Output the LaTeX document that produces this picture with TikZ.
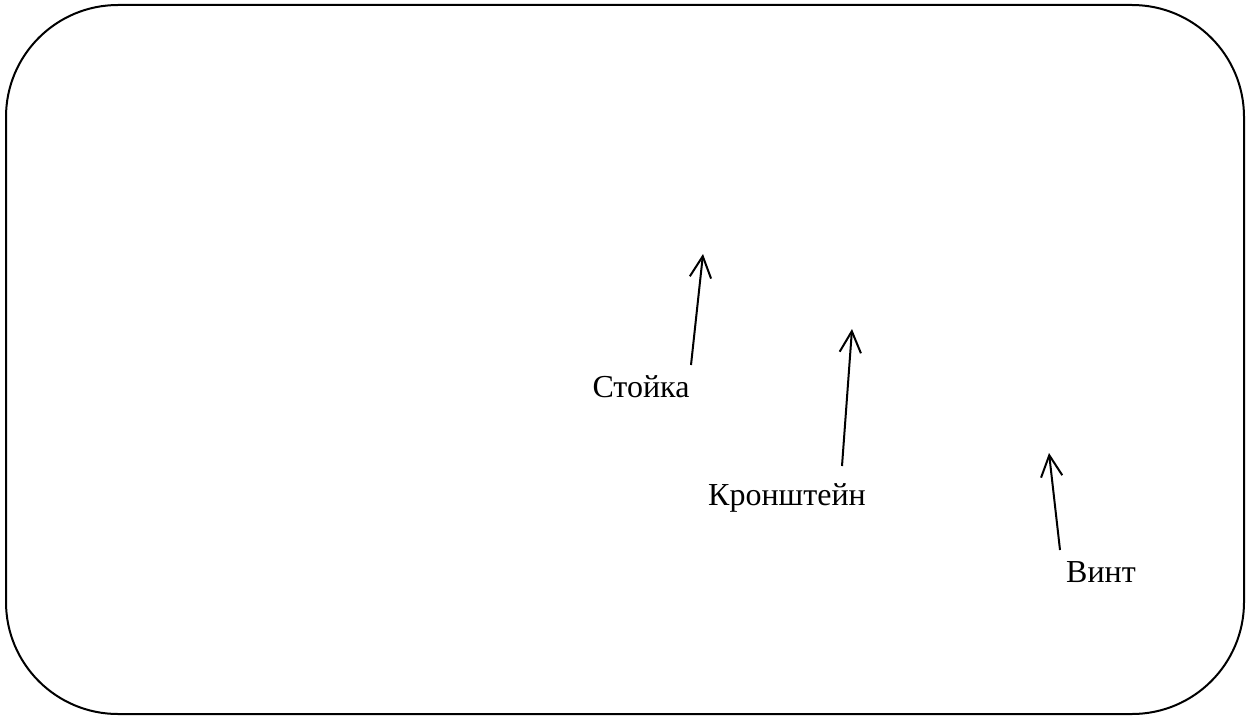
\documentclass[tikz,border=0pt]{standalone}
\usepackage{fontspec}
\setmainfont{Liberation Serif}
\usetikzlibrary{arrows.meta}
\tikzset{
  frame/.style={draw=black, line width=1.5pt, rounded corners=84pt},
  pointer/.style={draw=black, line width=1.5pt, -{Straight Barb[length=16pt,width=16pt,line width=1.5pt]}},
  label/.style={font=\fontsize{24}{29}\selectfont, inner sep=0pt, anchor=base}
}
\begin{document}
\begin{tikzpicture}[x=0.75pt,y=-0.75pt]
\useasboundingbox (0,0) rectangle (1248,717);
\path[frame] (6,5) rectangle (1244,714);
\node[label] (stoika) at (641,397) {Стойка};
\node[label] (kron) at (787,505) {Кронштейн};
\node[label] (vint) at (1101,582) {Винт};
\coordinate (t1) at (691,365);
\coordinate (h1) at (703,254);
\coordinate (t2) at (842,466);
\coordinate (h2) at (852,329);
\coordinate (t3) at (1060,550);
\coordinate (h3) at (1049,453);
\draw[pointer] (t1) -- (h1);
\draw[pointer] (t2) -- (h2);
\draw[pointer] (t3) -- (h3);
\end{tikzpicture}
\end{document}
